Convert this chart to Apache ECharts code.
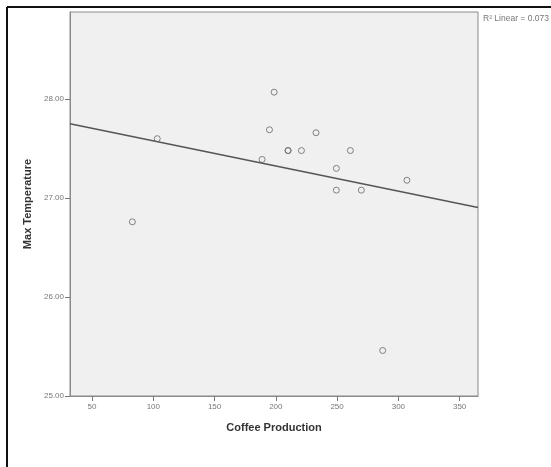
<!DOCTYPE html>
<html>
<head>
<meta charset="utf-8">
<script src="https://cdn.jsdelivr.net/npm/echarts@6/dist/echarts.min.js"></script>
<style>
  html, body { margin: 0; padding: 0; background: #fff; }
  #scatter { width: 551px; height: 467px; }
</style>
</head>
<body>
<div id="scatter"></div>
<script>
// coffee production vs max temperature
var coffeeProd = [82.9, 103.2, 198.6, 194.8, 188.8, 210, 210, 220.9, 232.8, 260.8, 249.4, 249.4, 269.8, 307, 287.2];
var maxTemp    = [26.76, 27.60, 28.07, 27.69, 27.39, 27.48, 27.48, 27.48, 27.66, 27.48, 27.30, 27.08, 27.08, 27.18, 25.46];

var xTicks = [50, 100, 150, 200, 250, 300, 350];
var yTicks = [25, 26, 27, 28];
var xRange = [32, 365];
var yRange = [25, 28.88];
var r2Label = 'R\u00b2 Linear = 0.073';

// least squares fit line
var n = coffeeProd.length;
var mx = 0, my = 0;
for (var i = 0; i < n; i++) { mx += coffeeProd[i]; my += maxTemp[i]; }
mx /= n; my /= n;
var sxy = 0, sxx = 0;
for (var i = 0; i < n; i++) {
    sxy += (coffeeProd[i] - mx) * (maxTemp[i] - my);
    sxx += (coffeeProd[i] - mx) * (coffeeProd[i] - mx);
}
var slope = sxy / sxx;
var icpt = my - slope * mx;
var fitLine = xRange.map(function (x) { return [x, icpt + slope * x]; });

var pts = coffeeProd.map(function (x, i) { return [x, maxTemp[i]]; });

var chartScatter = echarts.init(document.getElementById('scatter'));
chartScatter.setOption({
    animation: false,
    backgroundColor: '#fff',
    grid: {
        left: 70,
        top: 12,
        right: 73,
        bottom: 71,
        show: true,
        backgroundColor: '#f0f0f0',
        borderColor: '#8a8a8a',
        borderWidth: 1
    },
    xAxis: {
        type: 'value',
        min: xRange[0],
        max: xRange[1],
        name: 'Coffee Production',
        nameLocation: 'middle',
        nameGap: 26,
        nameTextStyle: { fontFamily: 'Liberation Sans', fontWeight: 'bold', fontSize: 11, color: '#333' },
        splitLine: { show: false },
        axisLine: { show: true, lineStyle: { color: '#8a8a8a' } },
        axisTick: { show: true, length: 5, customValues: xTicks, lineStyle: { color: '#777' } },
        axisLabel: {
            customValues: xTicks,
            margin: 7,
            fontFamily: 'Liberation Sans',
            fontSize: 8,
            color: '#777'
        }
    },
    yAxis: {
        type: 'value',
        min: yRange[0],
        max: yRange[1],
        name: 'Max Temperature',
        nameLocation: 'middle',
        nameGap: 32,
        nameTextStyle: { fontFamily: 'Liberation Sans', fontWeight: 'bold', fontSize: 11, color: '#333' },
        splitLine: { show: false },
        axisLine: { show: true, lineStyle: { color: '#8a8a8a' } },
        axisTick: { show: true, length: 5, customValues: yTicks, lineStyle: { color: '#777' } },
        axisLabel: {
            customValues: yTicks,
            margin: 6,
            fontFamily: 'Liberation Sans',
            fontSize: 8,
            color: '#777',
            formatter: function (v) { return v.toFixed(2); }
        }
    },
    graphic: [
        { type: 'line', shape: { x1: 7, y1: 7, x2: 7, y2: 467 }, style: { stroke: '#111', lineWidth: 2 } },
        { type: 'line', shape: { x1: 7, y1: 7, x2: 551, y2: 7 }, style: { stroke: '#111', lineWidth: 2 } },
        {
            type: 'text', left: 483, top: 14,
            style: { text: r2Label, fontFamily: 'Liberation Sans', fontSize: 8.5, fill: '#777' }
        }
    ],
    series: [
        {
            type: 'line',
            data: fitLine,
            symbol: 'none',
            lineStyle: { color: '#555', width: 1.5 },
            silent: true,
            z: 2
        },
        {
            type: 'scatter',
            data: pts,
            symbol: 'circle',
            symbolSize: 6,
            itemStyle: { color: 'rgba(0,0,0,0)', borderColor: '#666', borderWidth: 1 },
            z: 3
        }
    ]
});
window.addEventListener('resize', function () {
    chartScatter.resize();
});
</script>
</body>
</html>
